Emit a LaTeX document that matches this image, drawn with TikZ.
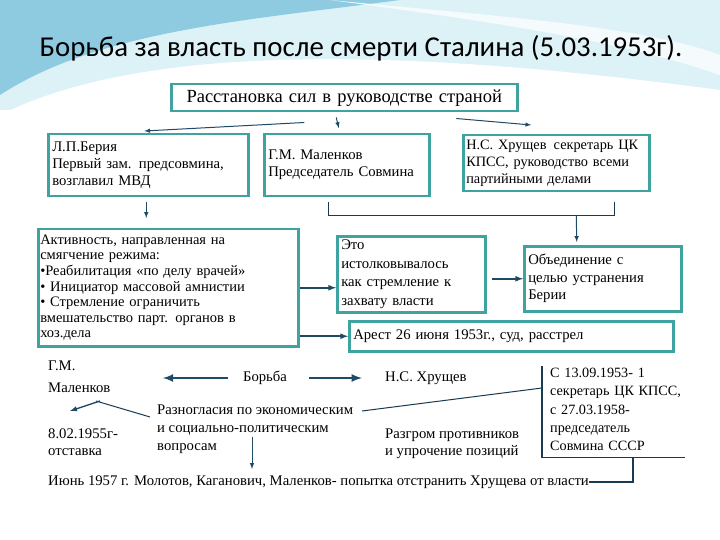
\documentclass[tikz,border=0pt]{standalone}
\usepackage{fontspec}
\setmainfont{Liberation Serif}
\newfontfamily\titlefont{Carlito}
\usepackage{tikz}
\usetikzlibrary{calc,positioning}
\definecolor{boxteal}{HTML}{3FA3A0}
\definecolor{arrblue}{HTML}{1F4A66}
\definecolor{skydeep}{HTML}{8FCBE0}
\definecolor{skylight}{HTML}{DDF2F7}
\tikzset{
  bx/.style={draw=boxteal, line width=2.5pt, fill=white, inner sep=4pt,
             align=left, anchor=north west, font=\fontsize{14.7}{17}\selectfont},
  arr/.style={-latex, draw=arrblue, line width=1.6pt},
  arrthin/.style={-latex, draw=arrblue, line width=1pt},
  brk/.style={draw=arrblue!80!black, line width=1pt},
  lbl/.style={align=left, inner sep=0pt, font=\fontsize{14.7}{17}\selectfont}
}

\begin{document}
\begin{tikzpicture}[x=1pt, y=-1pt]
  \useasboundingbox (0,0) rectangle (720,540);
  % background
  \fill[white] (0,0) rectangle (720,540);
  \fill[skylight] (0,0) rectangle (720,110);
  \fill[white] (0,115) .. controls (150,40) and (420,50) .. (720,90) -- (720,115) -- cycle;
  \fill[skydeep] (0,0) -- (400,0) .. controls (250,20) and (100,30) .. (0,95) -- cycle;
  \fill[white!70!skylight] (330,0) .. controls (480,15) and (640,25) .. (720,55)
    -- (720,75) .. controls (620,40) and (480,20) .. (330,0) -- cycle;

  \node[font=\titlefont\fontsize{28.8}{32}\selectfont] (title) at (361,48)
    {Борьба за власть после смерти Сталина (5.03.1953г).};

  % upper boxes
  \node[bx, font=\fontsize{18.5}{20}\selectfont, align=center, text width=342pt,
        minimum height=27pt, inner sep=2pt] (top) at (170,83)
    {Расстановка сил в руководстве страной};
  \node[bx, text width=192pt, minimum height=62pt] (beria) at (47,133)
    {Л.П.Берия\\Первый зам. предсовмина,\\возглавил МВД};
  \node[bx, text width=157pt, minimum height=62pt] (malenkov) at (263,133)
    {Г.М. Маленков\\Председатель Совмина};
  \node[bx, text width=180pt, minimum height=56pt, inner sep=3pt,
        font=\fontsize{14.3}{17}\selectfont] (khr) at (462,134)
    {Н.С. Хрущев\hspace{0.5em}секретарь ЦК\\КПСС, руководство всеми\\партийными делами};
  \node[bx, text width=256pt, minimum height=117pt, inner sep=2pt,
        font=\fontsize{14.5}{15.6}\selectfont] (activity) at (37,228)
    {Активность, направленная на\\смягчение режима:\\•Реабилитация «по делу врачей»\\%
     • Инициатор массовой амнистии\\• Стремление ограничить\\%
     вмешательство парт. органов в\\хоз.дела};
  \node[bx, text width=140pt, minimum height=75pt, font=\fontsize{14.7}{18.5}\selectfont]
    (eto) at (336,235)
    {Это\\истолковывалось\\как стремление к\\захвату власти};
  \node[bx, text width=149pt, minimum height=65pt, font=\fontsize{14.7}{17.5}\selectfont]
    (unite) at (523,245)
    {Объединение с\\целью устранения\\Берии};
  \node[bx, text width=316pt, minimum height=30pt] (arrest) at (348,320)
    {Арест 26 июня 1953г., суд, расстрел};

  \draw[arrthin] ([shift={(-40,10)}]top.south) -- ([shift={(-4,-2)}]beria.north);
  \draw[arrthin] ([shift={(-8,5)}]top.south) -- ([shift={(-8,-5)}]malenkov.north);
  \draw[arrthin] ([shift={(112,6)}]top.south) -- ([shift={(-25,-9)}]khr.north);
  \draw[arrthin] ([shift={(-2,5)}]beria.south) -- ([shift={(-22,-10)}]activity.north);
  \draw[brk] ([shift={(-18,5)}]malenkov.south) |- ([shift={(58,23)}]khr.south)
    -- ([shift={(58,10)}]khr.south);
  \draw[arrthin] ([shift={(20,23)}]khr.south) -- ([shift={(-26,-3)}]unite.north);
  \draw[arr] (activity.east) -- (activity.east -| eto.west);
  \draw[arr] ([xshift=5]unite.west -| eto.east) -- (unite.west);
  \draw[arr] (arrest.west -| activity.east) -- (arrest.west);

  % lower part
  \node[lbl, anchor=north west, font=\fontsize{14.7}{22}\selectfont] (gm) at (48,361)
    {Г.М.\\Маленков};
  \node[lbl] (borba) at (265,378) {Борьба};
  \node[lbl, anchor=west] (khr2) at (385,378) {Н.С. Хрущев};
  \node[lbl, anchor=north west, font=\fontsize{14.7}{18}\selectfont] (razn) at (157,405)
    {Разногласия по экономическим\\и социально-политическим\\вопросам};
  \node[lbl, anchor=north west, font=\fontsize{14.7}{16.5}\selectfont] (otst) at (48,429)
    {8.02.1955г-\\отставка};
  \node[lbl, anchor=north west, font=\fontsize{14.7}{16.5}\selectfont] (razgrom) at (385,429)
    {Разгром противников\\и упрочение позиций};
  \node[lbl, anchor=north west, text width=135pt, inner sep=0pt,
        font=\fontsize{14.2}{18.2}\selectfont] (since) at (550,368)
    {С 13.09.1953- 1\\секретарь ЦК КПСС,\\с 27.03.1958-\\председатель\\Совмина СССР};
  \node[lbl, anchor=west] (june) at (48,482)
    {Июнь 1957 г. Молотов, Каганович, Маленков- попытка отстранить Хрущева от власти};

  \draw[brk, line width=1.2pt] ([shift={(-8,-2)}]since.north west) -- ([shift={(-8,7)}]since.south west)
    -- ([shift={(0,7)}]since.south east);
  \draw[brk, line width=1.2pt] ([shift={(83,7)}]since.south west) |- (june.east);
  \draw[arr, line width=2.5pt] ([xshift=-15]borba.west) -- ([xshift=-80]borba.west);
  \draw[arr, line width=2.5pt] ([xshift=22]borba.east) -- ([xshift=-23]khr2.west);
  \draw[brk] ([shift={(-7,12)}]razn.north west) -- ([shift={(-61,-4)}]razn.north west);
  \draw[arrthin, line width=1.4pt] ([shift={(-57,-4)}]razn.north west) -- ([shift={(-87,6)}]razn.north west);
  \draw[brk] ([shift={(205,6)}]razn.north west) -- ([shift={(-8,20)}]since.north west);
  \draw[arrthin] ([shift={(95,32)}]razn.north west) -- ([shift={(95,64)}]razn.north west);
\end{tikzpicture}
\end{document}
